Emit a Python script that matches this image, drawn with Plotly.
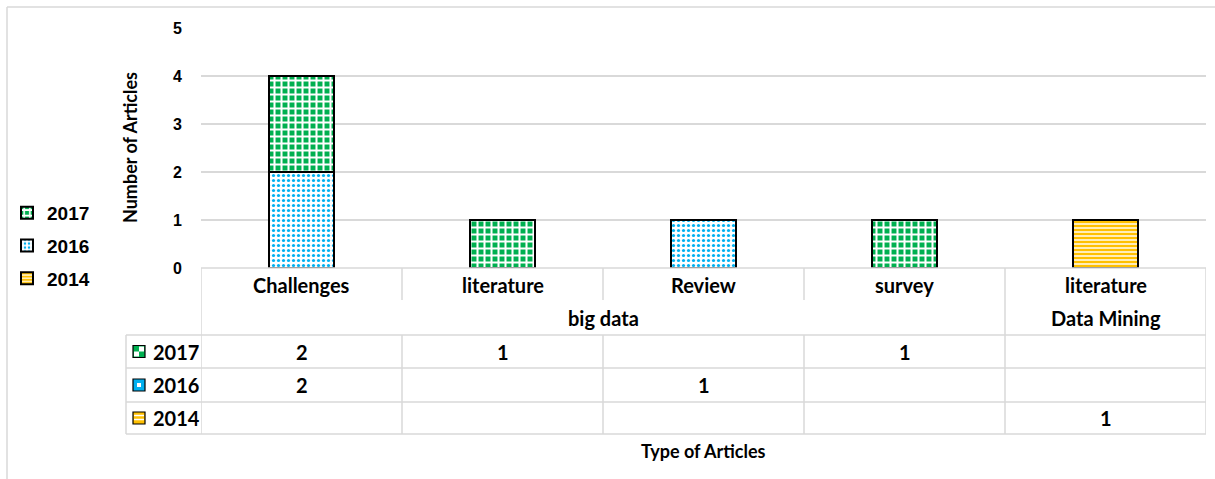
import plotly.graph_objects as go

# ---- data -------------------------------------------------------------
groups = ["big data", "big data", "big data", "big data", "Data Mining"]
types = ["Challenges", "literature", "Review", "survey", "literature"]
years = ["2014", "2016", "2017"]
counts_2014 = [None, None, None, None, 1]
counts_2016 = [2, None, 1, None, None]
counts_2017 = [2, 1, None, 1, None]
y_ticks = [0, 1, 2, 3, 4, 5]

series = {"2014": counts_2014, "2016": counts_2016, "2017": counts_2017}

# ---- styling ----------------------------------------------------------
W, H = 1215, 479
L, R, T, B = 201, 1206, 28, 268          # plot area in pixels
GRID = "#d9d9d9"
LABEL_FONT = "Lato"
NUM_FONT = "Liberation Sans"

styles = {
    "2017": dict(fg="#ffffff", bg="#00B050", key="#00B050", shape="+", size=7, solidity=0.5, rank=1),
    "2016": dict(fg="#00B0F0", bg="#ffffff", key="#00B0F0", shape=".", size=5, solidity=0.32, rank=2),
    "2014": dict(fg="#FFC000", bg="#FFF2CC", key="#FFC000", shape="-", size=4, solidity=0.55, rank=3),
}


def px(x):
    return (x - L) / (R - L)


def py(y):
    return (B - y) / (B - T)


positions = list(range(len(types)))

fig = go.Figure()
for yr in years:
    st = styles[yr]
    fig.add_trace(go.Bar(
        name=yr,
        legendgroup=yr,
        legendrank=st["rank"],
        x=positions,
        y=series[yr],
        width=0.32,
        marker=dict(
            color=st["bg"],
            line=dict(color="#000000", width=2),
            pattern=dict(shape=st["shape"], fgcolor=st["fg"], bgcolor=st["bg"],
                         size=st["size"], solidity=st["solidity"], fillmode="replace"),
        ),
    ))

shapes = []
annotations = []

# outer chart frame
shapes.append(dict(type="line", xref="paper", yref="paper", x0=px(7), x1=px(1215),
                   y0=py(7), y1=py(7), line=dict(color=GRID, width=1.5)))
shapes.append(dict(type="line", xref="paper", yref="paper", x0=px(7), x1=px(7),
                   y0=py(7), y1=py(479), line=dict(color=GRID, width=1.5)))

# data table below the plot
ROW_TOP = [335, 368, 402]
ROW_BOT = 434
HEAD_SPLIT = 300
line_st = dict(color=GRID, width=1.5)

shapes.append(dict(type="line", xref="paper", yref="paper", x0=0, x1=1, y0=0, y1=0, line=line_st))
for yy in ROW_TOP + [ROW_BOT]:
    shapes.append(dict(type="line", xref="paper", yref="paper", x0=px(126), x1=1,
                       y0=py(yy), y1=py(yy), line=line_st))
shapes.append(dict(type="line", xref="paper", yref="paper", x0=px(126), x1=px(126),
                   y0=py(ROW_TOP[0]), y1=py(ROW_BOT), line=line_st))

for i in range(len(types) + 1):
    b = i - 0.5
    edge = i == 0 or i == len(types) or groups[i - 1] != groups[i]
    if edge:
        shapes.append(dict(type="line", xref="x", yref="paper", x0=b, x1=b,
                           y0=0, y1=py(ROW_BOT), line=line_st))
    else:
        shapes.append(dict(type="line", xref="x", yref="paper", x0=b, x1=b,
                           y0=0, y1=py(HEAD_SPLIT), line=line_st))
        shapes.append(dict(type="line", xref="x", yref="paper", x0=b, x1=b,
                           y0=py(ROW_TOP[0]), y1=py(ROW_BOT), line=line_st))

lab_font = dict(family=LABEL_FONT, size=20, color="#000000", weight="bold")
title_font = dict(family=LABEL_FONT, size=18, color="#000000", weight="bold")


def label(x, y, text, xref="x", font=lab_font, **kw):
    d = dict(x=x, y=y, xref=xref, yref="paper", text=text, showarrow=False,
             xanchor="center", yanchor="middle", font=font)
    d.update(kw)
    annotations.append(d)


# category labels
for pos, t in zip(positions, types):
    label(pos, py(285), t)

# group labels centred over their categories
start = 0
for i in range(1, len(groups) + 1):
    if i == len(groups) or groups[i] != groups[start]:
        label((positions[start] + positions[i - 1]) / 2, py(318), groups[start])
        start = i

# table rows: legend key + values
table_years = ["2017", "2016", "2014"]
for r, yr in enumerate(table_years):
    top = ROW_TOP[r]
    bot = ROW_TOP[r + 1] if r + 1 < len(ROW_TOP) else ROW_BOT
    cy = (top + bot) / 2
    st = styles[yr]
    shapes.append(dict(type="rect", xref="paper", yref="paper",
                       x0=px(133), x1=px(145), y0=py(cy - 6), y1=py(cy + 6),
                       fillcolor=st["key"], line=dict(color="#000000", width=1.2)))
    if yr == "2017":
        shapes.append(dict(type="rect", xref="paper", yref="paper",
                           x0=px(139), x1=px(144), y0=py(cy - 5), y1=py(cy), fillcolor="#ffffff",
                           line=dict(width=0)))
        shapes.append(dict(type="rect", xref="paper", yref="paper",
                           x0=px(134), x1=px(139), y0=py(cy), y1=py(cy + 5), fillcolor="#ffffff",
                           line=dict(width=0)))
    elif yr == "2016":
        shapes.append(dict(type="rect", xref="paper", yref="paper",
                           x0=px(137), x1=px(141), y0=py(cy - 2), y1=py(cy + 2), fillcolor="#ffffff",
                           line=dict(width=0)))
    else:
        for k in (-2.5, 1.5):
            shapes.append(dict(type="line", xref="paper", yref="paper",
                               x0=px(134), x1=px(144), y0=py(cy + k), y1=py(cy + k),
                               line=dict(color="#ffffff", width=1.5)))
    label(px(151), py(cy), yr, xref="paper", xanchor="left")
    for pos, v in zip(positions, series[yr]):
        if v is not None:
            label(pos, py(cy), str(v))

# axis titles
label(px(130), py(148), "Number of Articles", xref="paper", font=title_font, textangle=-90)
label(0.5, py(451), "Type of Articles", xref="paper", font=title_font)

fig.update_layout(
    width=W, height=H,
    margin=dict(l=L, r=W - R, t=T, b=H - B, pad=0, autoexpand=False),
    paper_bgcolor="#ffffff", plot_bgcolor="#ffffff",
    barmode="stack",
    bargap=0,
    showlegend=True,
    legend=dict(
        x=px(7), y=py(194), xanchor="left", yanchor="top",
        traceorder="grouped", tracegroupgap=5,
        font=dict(family=NUM_FONT, size=19, color="#000000", weight="bold"),
        bgcolor="rgba(0,0,0,0)",
    ),
    xaxis=dict(range=[-0.5, len(types) - 0.5], showticklabels=False, showgrid=False,
               zeroline=False, showline=False, ticks=""),
    yaxis=dict(range=[0, 5], tickvals=y_ticks, showgrid=True, gridcolor=GRID, gridwidth=1.5,
               zeroline=False, showline=False, ticks="", ticklabelstandoff=18,
               tickfont=dict(family=NUM_FONT, size=16, color="#000000", weight="bold")),
    shapes=shapes,
    annotations=annotations,
)

fig.write_html("out.html")
